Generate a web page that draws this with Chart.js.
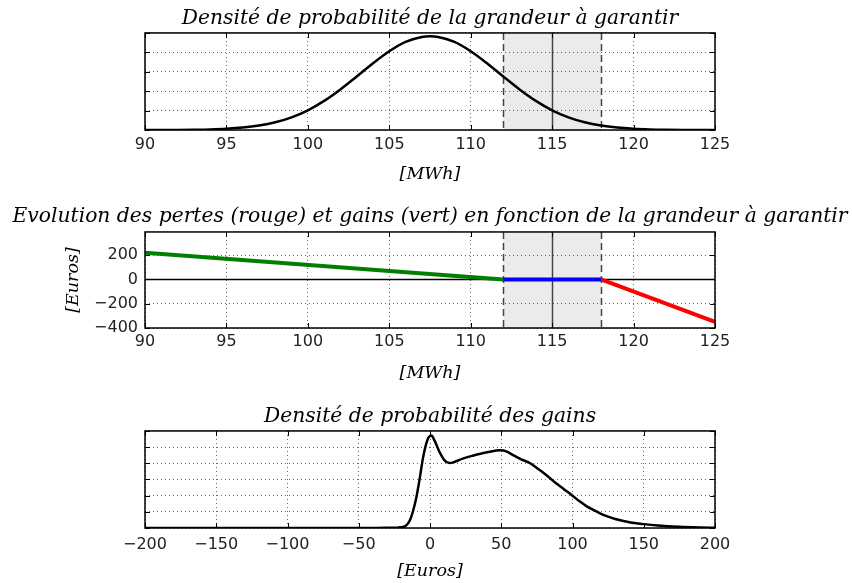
<!DOCTYPE html>
<html>
<head>
<meta charset="utf-8">
<script src="https://cdn.jsdelivr.net/npm/chart.js@4/dist/chart.umd.min.js"></script>
<style>
html, body { margin: 0; padding: 0; background: #fff; width: 852px; height: 583px; overflow: hidden; position: relative; }
.box { position: absolute; left: 5px; width: 850px; }
</style>
</head>
<body>
<div class="box" style="top:0;height:190px"><canvas id="c1"></canvas></div>
<div class="box" style="top:200px;height:190px"><canvas id="c2"></canvas></div>
<div class="box" style="top:400px;height:183px"><canvas id="c3"></canvas></div>
<script>
// Titres
const TITLES = [
    "Densité de probabilité de la grandeur à garantir",
    "Evolution des pertes (rouge) et gains (vert) en fonction de la grandeur à garantir",
    "Densité de probabilité des gains"
];

// Ticks
const MWH_TICKS = [90, 95, 100, 105, 110, 115, 120, 125];
const EURO_TICKS = [-400, -200, 0, 200];
const GAIN_TICKS = [-200, -150, -100, -50, 0, 50, 100, 150, 200];
const DENS_GRID = [0, 0.02, 0.04, 0.06, 0.08, 0.1];
const GAIN_GRID = [0, 0.002, 0.004, 0.006, 0.008, 0.010, 0.012];

// Zone garantie : borne basse, valeur garantie, borne haute
const BAND = [112, 115, 118];

// Densité de la grandeur à garantir
const DENS_X = [90, 91, 92, 93, 94, 95, 96, 97, 98, 99, 100, 101, 102, 103, 104, 105, 106, 107, 107.5,
    108, 109, 110, 111, 112, 113, 114, 115, 116, 117, 118, 119, 120, 121, 122, 123, 124, 125];
const DENS_Y = [0.00002, 0.00005, 0.00012, 0.00029, 0.00062, 0.00127, 0.00248, 0.00456, 0.00793, 0.01305,
    0.0203, 0.0300, 0.0418, 0.0551, 0.0688, 0.0812, 0.0908, 0.0959, 0.0966,
    0.0959, 0.0908, 0.0812, 0.0688, 0.0551, 0.0418, 0.0300, 0.0203, 0.01305, 0.00793,
    0.00456, 0.00248, 0.00127, 0.00062, 0.00029, 0.00012, 0.00005, 0.00002];

// Pertes / gains
const GREEN_X = [90, 112];
const GREEN_Y = [220, 0];
const BLUE_X = [112, 118];
const BLUE_Y = [0, 0];
const RED_X = [118, 125];
const RED_Y = [0, -350];

// Densité des gains
const GAIN_X = [-200, -150, -100, -60, -40, -30, -24, -21, -17, -14,
    -12, -9.7, -7.4, -5, -2.7, -1, 1, 3.2, 6.7, 10.2,
    13.7, 17, 23, 30, 36, 42, 49, 54, 58, 64,
    70, 76, 82, 88, 94, 100, 105, 110, 115, 120,
    125, 130, 140, 150, 160, 175, 190, 200];
const GAIN_Y = [0, 0, 0, 0, 0.000006, 0.000016, 0.00004, 0.00008, 0.00028, 0.001,
    0.00204, 0.00368, 0.00592, 0.00858, 0.0104, 0.0112, 0.01144, 0.0108, 0.0094, 0.00836,
    0.00804, 0.00816, 0.00858, 0.00894, 0.0092, 0.00944, 0.0096, 0.00944, 0.00904, 0.0085,
    0.00804, 0.0073, 0.0065, 0.0056, 0.0048, 0.0040, 0.0033, 0.00268, 0.0022, 0.00176,
    0.0014, 0.00112, 0.00072, 0.00048, 0.0003, 0.00014, 0.00006, 0.00003];

Chart.defaults.font.family = "DejaVu Sans";
Chart.defaults.font.size = 16;
Chart.defaults.color = "#222";

const serif = { family: "DejaVu Serif", style: "italic", weight: "normal", size: 20.3 };
const serifSmall = { family: "DejaVu Serif", style: "italic", weight: "normal", size: 17.5 };

function toPoints(xs, ys) {
    return xs.map((x, i) => ({ x: x, y: ys[i] }));
}

function fixedTicks(values) {
    return function(scale) {
        scale.ticks = values.map(v => ({ value: v }));
    };
}

function minus(value) {
    return String(value).replace("-", "\u2212");
}

const gridOpts = { color: "rgba(0,0,0,0.6)", lineWidth: 1, drawTicks: false };
const borderOpts = { display: false, dash: [1, 3] };

// Zone grisée + lignes verticales
function bandPlugin(band) {
    return {
        id: "band",
        beforeDraw(chart) {
            const { ctx, chartArea: a, scales } = chart;
            const x0 = scales.x.getPixelForValue(band[0]);
            const x1 = scales.x.getPixelForValue(band[2]);
            ctx.save();
            ctx.fillStyle = "#ebebeb";
            ctx.fillRect(x0, a.top, x1 - x0, a.height);
            ctx.restore();
        },
        beforeDatasetsDraw(chart) {
            const { ctx, chartArea: a, scales } = chart;
            ctx.save();
            ctx.strokeStyle = "#444";
            ctx.lineWidth = 1.5;
            band.forEach((v, i) => {
                const px = Math.round(scales.x.getPixelForValue(v)) + 0.5;
                ctx.setLineDash(i === 1 ? [] : [7, 4]);
                ctx.beginPath();
                ctx.moveTo(px, a.top);
                ctx.lineTo(px, a.bottom);
                ctx.stroke();
            });
            ctx.restore();
        }
    };
}

// Cadre + ticks intérieurs
const framePlugin = {
    id: "frame",
    afterDraw(chart) {
        const { ctx, chartArea: a, scales } = chart;
        ctx.save();
        ctx.strokeStyle = "#000";
        ctx.lineWidth = 1;
        ctx.beginPath();
        scales.x.ticks.forEach(t => {
            const px = Math.round(scales.x.getPixelForValue(t.value)) + 0.5;
            ctx.moveTo(px, a.bottom); ctx.lineTo(px, a.bottom - 5);
            ctx.moveTo(px, a.top); ctx.lineTo(px, a.top + 5);
        });
        scales.y.ticks.forEach(t => {
            const py = Math.round(scales.y.getPixelForValue(t.value)) + 0.5;
            ctx.moveTo(a.left, py); ctx.lineTo(a.left + 5, py);
            ctx.moveTo(a.right, py); ctx.lineTo(a.right - 5, py);
        });
        ctx.stroke();
        ctx.lineWidth = 1.5;
        ctx.strokeRect(a.left, a.top, a.width, a.height);
        ctx.restore();
    }
};

function makeOptions(cfg) {
    return {
        animation: false,
        responsive: true,
        maintainAspectRatio: false,
        layout: { padding: 0 },
        elements: { point: { radius: 0 } },
        plugins: {
            legend: { display: false },
            tooltip: { enabled: false },
            title: {
                display: true,
                text: cfg.title,
                font: serif,
                color: "#000",
                padding: cfg.titlePad
            }
        },
        scales: {
            x: {
                type: "linear",
                min: cfg.xTicks[0],
                max: cfg.xTicks[cfg.xTicks.length - 1],
                afterBuildTicks: fixedTicks(cfg.xTicks),
                ticks: { padding: cfg.xTickPad, callback: minus, maxRotation: 0, autoSkip: false },
                grid: gridOpts,
                border: borderOpts,
                title: { display: true, text: cfg.xLabel, font: serifSmall, color: "#000", padding: { top: 0, bottom: cfg.xLabelPad } },
                afterFit(s) { s.height = cfg.xHeight; }
            },
            y: {
                type: "linear",
                min: cfg.yMin,
                max: cfg.yMax,
                afterBuildTicks: fixedTicks(cfg.yTicks),
                ticks: { display: cfg.yLabels, padding: 7, callback: minus },
                grid: gridOpts,
                border: borderOpts,
                title: cfg.yLabel
                    ? { display: true, text: cfg.yLabel, font: serifSmall, color: "#000", padding: { top: 58, bottom: 0 } }
                    : { display: false },
                afterFit(s) { s.width = 140; }
            },
            pad: {
                type: "linear",
                position: "right",
                display: true,
                ticks: { display: false },
                grid: { display: false },
                border: { display: false },
                afterFit(s) { s.width = 140; }
            }
        }
    };
}

new Chart(document.getElementById("c1"), {
    type: "line",
    data: {
        datasets: [{
            data: toPoints(DENS_X, DENS_Y),
            borderColor: "#000",
            borderWidth: 2.5,
            cubicInterpolationMode: "monotone",
            fill: false
        }]
    },
    options: makeOptions({
        title: TITLES[0], titlePad: { top: 6.8, bottom: 1.8 },
        xTicks: MWH_TICKS, xTickPad: 5, xLabel: "[MWh]", xLabelPad: 4.8, xHeight: 60,
        yMin: 0, yMax: 0.1, yTicks: DENS_GRID, yLabels: false
    }),
    plugins: [bandPlugin(BAND), framePlugin]
});

new Chart(document.getElementById("c2"), {
    type: "line",
    data: {
        datasets: [
            { data: toPoints(GREEN_X, GREEN_Y), borderColor: "rgb(0,128,0)", borderWidth: 4, fill: false },
            { data: toPoints(BLUE_X, BLUE_Y), borderColor: "#0000ff", borderWidth: 4, fill: false },
            { data: toPoints(RED_X, RED_Y), borderColor: "#ff0000", borderWidth: 4, fill: false },
            { data: toPoints([MWH_TICKS[0], MWH_TICKS[MWH_TICKS.length - 1]], [0, 0]), borderColor: "#000", borderWidth: 1.3, fill: false }
        ]
    },
    options: makeOptions({
        title: TITLES[1], titlePad: { top: 4.8, bottom: 2.8 },
        xTicks: MWH_TICKS, xTickPad: 4.5, xLabel: "[MWh]", xLabelPad: 5.8, xHeight: 62,
        yMin: -400, yMax: 392, yTicks: EURO_TICKS, yLabels: true, yLabel: "[Euros]"
    }),
    plugins: [bandPlugin(BAND), framePlugin]
});

new Chart(document.getElementById("c3"), {
    type: "line",
    data: {
        datasets: [{
            data: toPoints(GAIN_X, GAIN_Y),
            borderColor: "#000",
            borderWidth: 2.5,
            cubicInterpolationMode: "monotone",
            fill: false
        }]
    },
    options: makeOptions({
        title: TITLES[2], titlePad: { top: 4.3, bottom: 2.3 },
        xTicks: GAIN_TICKS, xTickPad: 7, xLabel: "[Euros]", xLabelPad: 1.5, xHeight: 55,
        yMin: 0, yMax: 0.012, yTicks: GAIN_GRID, yLabels: false
    }),
    plugins: [framePlugin]
});
</script>
</body>
</html>
